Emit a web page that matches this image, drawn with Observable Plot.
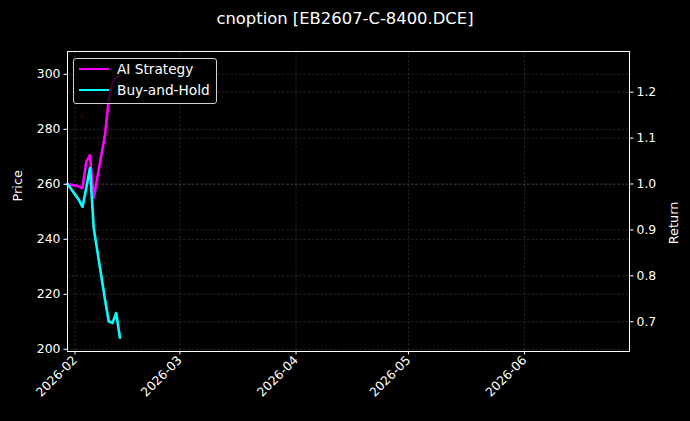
<!DOCTYPE html>
<html>
<head>
<meta charset="utf-8">
<script src="https://cdn.jsdelivr.net/npm/d3@7"></script>
<script src="https://cdn.jsdelivr.net/npm/@observablehq/plot@0.6"></script>
<style>
html,body{margin:0;padding:0;background:#000;}
#wrap{position:relative;width:690px;height:421px;background:#000;font-family:"DejaVu Sans",sans-serif;overflow:hidden;}
#title{height:40px;line-height:38px;text-align:center;color:#fff;font-size:16.4px;white-space:nowrap;}
#legend{position:absolute;left:73px;top:58px;width:142px;height:44px;background:rgba(0,0,0,0.8);border:1px solid #d0d0d0;border-radius:3px;}
.item{position:absolute;left:0;height:20px;width:142px;}
.swatch{position:absolute;left:5px;top:8.5px;width:30px;height:2.6px;}
.lab{position:absolute;left:43px;top:0;line-height:20px;font-size:13.7px;color:#fff;white-space:nowrap;}
#chart svg{display:block;}
</style>
</head>
<body>
<div id="wrap">
  <div id="title"></div>
  <div id="chart"></div>
  <div id="legend"></div>
</div>
<script>
// ---- data ----
const titleText = "cnoption [EB2607-C-8400.DCE]";
const dates = ["2026-01-30","2026-02-02","2026-02-03","2026-02-04","2026-02-05","2026-02-06","2026-02-09","2026-02-10","2026-02-11","2026-02-12","2026-02-13"];
const aiReturn = [1.000, 0.995, 0.991, 1.048, 1.063, 0.970, 1.107, 1.183, 1.222, 1.231, 1.236];
const bhReturn = [1.000, 0.966, 0.950, 0.991, 1.035, 0.904, 0.749, 0.701, 0.697, 0.719, 0.665];
const priceDotDates = ["2026-02-03","2026-02-09","2026-02-11"];
const priceDotValues = [284.5, 231.4, 208.0];
const seriesNames = ["AI Strategy", "Buy-and-Hold"];
const seriesColors = ["#ff00ff", "#00ffff"];
const priceTicks = [200, 220, 240, 260, 280, 300];
const returnTicks = [0.7, 0.8, 0.9, 1.0, 1.1, 1.2];
const monthTicks = ["2026-02-01","2026-03-01","2026-04-01","2026-05-01","2026-06-01"];
const xDomain = ["2026-01-30","2026-06-29"];
const priceDomain = [199.2, 308.29];
const returnDomain = [0.6351, 1.2887];

// map the right-hand (return) axis onto the left-hand (price) scale
const r2p = r => priceDomain[0] + (r - returnDomain[0]) / (returnDomain[1] - returnDomain[0]) * (priceDomain[1] - priceDomain[0]);
const p2r = p => returnDomain[0] + (p - priceDomain[0]) / (priceDomain[1] - priceDomain[0]) * (returnDomain[1] - returnDomain[0]);

const rows = dates.map((d, i) => ({date: new Date(d), ai: aiReturn[i], bh: bhReturn[i]}));
const priceDots = priceDotDates.map((d, i) => ({date: new Date(d), price: priceDotValues[i]}));
const mTicks = monthTicks.map(d => new Date(d));

document.getElementById("title").textContent = titleText;

const gridStyle = {stroke: "#ffffff", strokeOpacity: 0.25, strokeDasharray: "2.5,1.8", strokeWidth: 0.6};

const chart = Plot.plot({
  width: 690,
  height: 381,
  marginTop: 11,
  marginBottom: 70,
  marginLeft: 67,
  marginRight: 61,
  style: {background: "#000", color: "#fff", fontFamily: "DejaVu Sans", fontSize: "12.4px"},
  x: {type: "utc", domain: xDomain.map(d => new Date(d))},
  y: {domain: priceDomain},
  marks: [
    Plot.gridX(mTicks, gridStyle),
    Plot.gridY(priceTicks, gridStyle),
    Plot.gridY(returnTicks.map(r2p), gridStyle),
    Plot.dot(priceDots, {x: "date", y: "price", r: 1, fill: "#8b0000", stroke: "none", fillOpacity: 0.7}),
    Plot.line(rows, {x: "date", y: d => r2p(d.ai), stroke: seriesColors[0], strokeWidth: 2.6}),
    Plot.line(rows, {x: "date", y: d => r2p(d.bh), stroke: seriesColors[1], strokeWidth: 2.6}),
    Plot.frame({stroke: "#fff", strokeWidth: 1}),
    Plot.axisX(mTicks, {tickFormat: d3.utcFormat("%Y-%m"), tickRotate: -45, tickSize: 3.5, tickPadding: 3, label: null, fontSize: 12.4}),
    Plot.axisY(priceTicks, {anchor: "left", tickSize: 3.5, tickPadding: 3.5, label: null, fontSize: 12.4}),
    Plot.axisY(returnTicks.map(r2p), {anchor: "right", tickSize: 3.5, tickPadding: 3.5, label: null, fontSize: 12.4, tickFormat: p => p2r(p).toFixed(1)}),
    Plot.text(["Price"], {frameAnchor: "left", dx: -50, rotate: -90, fontSize: 12.9, fill: "#fff", text: d => d}),
    Plot.text(["Return"], {frameAnchor: "right", dx: 44, rotate: -90, fontSize: 12.9, fill: "#fff", text: d => d})
  ]
});
document.getElementById("chart").appendChild(chart);

const legend = document.getElementById("legend");
seriesNames.forEach((name, i) => {
  const it = document.createElement("div");
  it.className = "item";
  it.style.top = (i === 0 ? 0 : 21) + "px";
  const sw = document.createElement("div");
  sw.className = "swatch";
  sw.style.background = seriesColors[i];
  const lb = document.createElement("div");
  lb.className = "lab";
  lb.textContent = name;
  it.appendChild(sw); it.appendChild(lb);
  legend.appendChild(it);
});
</script>
</body>
</html>
